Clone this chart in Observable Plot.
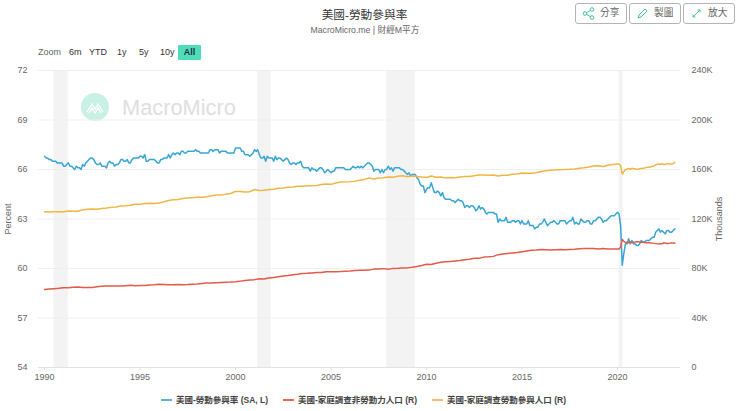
<!DOCTYPE html>
<html><head><meta charset="utf-8">
<script src="https://cdn.jsdelivr.net/npm/d3@7"></script>
<script src="https://cdn.jsdelivr.net/npm/@observablehq/plot@0.6"></script>
<style>
html,body{margin:0;padding:0;background:#fff;width:740px;height:411px;overflow:hidden;font-family:"Liberation Sans","Noto Sans CJK TC",sans-serif}
#page{position:relative;width:740px;height:411px}
.t{position:absolute;white-space:nowrap;line-height:1}
#chart{position:absolute;left:0;top:60px}
.btn{position:absolute;top:3px;width:50px;height:19px;border:1px solid #b4b4b4;border-radius:3px;font-size:9.7px;color:#666;background:#fff}
.btn span{position:absolute;left:24px;top:4px;line-height:1;white-space:nowrap}
.btn svg{position:absolute;left:6px;top:3px}
.sw{position:absolute;width:11px;height:2px;top:399px}
.lg{font-size:8.5px;font-weight:bold;color:#444;top:396px}
.z{font-size:9px;top:48px;color:#333}
</style></head><body>
<div id="page">
<svg style="position:absolute;left:81px;top:93px" width="28" height="28" viewBox="0 0 28 28"><circle cx="14" cy="14" r="14" fill="#c9f0e5"/><path d="M6 19 L11 11 L14 16 L17 11 L22 19 M8 20 L11 15 L14 20 L17 15 L20 20" fill="none" stroke="#fff" stroke-width="1.4"/></svg>
<div class="t" style="left:122px;top:97px;font-size:21.8px;color:#dedede">MacroMicro</div>
<div id="chart"></div>
<div class="t" style="left:0;width:729px;text-align:center;top:9px;font-size:11.7px;color:#333">美國-勞動參與率</div>
<div class="t" style="left:0;width:730px;text-align:center;top:26px;font-size:8.7px;color:#666">MacroMicro.me | 財經M平方</div>
<div class="btn" style="left:575px"><svg width="13" height="13" viewBox="0 0 13 13" fill="none" stroke="#45c29f"><circle cx="3" cy="6.5" r="1.8"/><circle cx="10" cy="2.5" r="1.8"/><circle cx="10" cy="10.5" r="1.8"/><path d="M4.6 5.6L8.4 3.4M4.6 7.4L8.4 9.6"/></svg><span>分享</span></div>
<div class="btn" style="left:629px"><svg width="13" height="13" viewBox="0 0 13 13" fill="none" stroke="#45c29f"><path d="M2 11L3 8L9 2L11 4L5 10Z"/></svg><span>製圖</span></div>
<div class="btn" style="left:683px"><svg width="13" height="13" viewBox="0 0 13 13" fill="none" stroke="#45c29f"><path d="M3 10L10 3M10 3L7.5 3M10 3L10 5.5M3 10L5.5 10M3 10L3 7.5"/></svg><span>放大</span></div>
<div class="t z" style="left:38px;color:#666">Zoom</div>
<div class="t z" style="left:69px">6m</div>
<div class="t z" style="left:89px">YTD</div>
<div class="t z" style="left:117px">1y</div>
<div class="t z" style="left:139px">5y</div>
<div class="t z" style="left:160px">10y</div>
<div style="position:absolute;left:178px;top:45px;width:23px;height:15px;background:#4fdcb8;border-radius:1px"></div>
<div class="t z" style="left:178px;width:23px;text-align:center;font-weight:bold;color:#234">All</div>
<div class="sw" style="left:161px;background:#5fb4cf"></div><div class="t lg" style="left:176px">美國-勞動參與率 (SA, L)</div>
<div class="sw" style="left:283px;background:#e26a58"></div><div class="t lg" style="left:298px">美國-家庭調查非勞動力人口 (R)</div>
<div class="sw" style="left:432px;background:#efc069"></div><div class="t lg" style="left:447px">美國-家庭調查勞動參與人口 (R)</div>
</div>
<script>
// 勞動參與率 monthly, 1990-01 … 2023-01
const participation = [
66.8,66.7,66.7,66.6,66.6,66.5,66.5,66.5,66.4,66.4,66.4,66.4,
66.2,66.2,66.3,66.4,66.2,66.2,66.1,66.0,66.2,66.1,66.1,66.0,
66.3,66.2,66.4,66.5,66.6,66.7,66.7,66.6,66.4,66.3,66.3,66.4,
66.2,66.2,66.2,66.1,66.4,66.5,66.4,66.4,66.2,66.3,66.3,66.4,
66.6,66.6,66.5,66.5,66.6,66.4,66.4,66.6,66.7,66.7,66.7,66.7,
66.8,66.8,66.7,66.9,66.5,66.5,66.6,66.6,66.6,66.6,66.5,66.4,
66.4,66.6,66.6,66.7,66.7,66.7,66.9,66.7,66.9,67.0,66.9,67.0,
67.0,66.9,67.1,67.1,67.0,67.0,67.1,67.1,67.1,67.1,67.1,67.2,
67.1,67.1,67.0,67.0,67.0,67.0,67.0,67.0,67.2,67.2,67.1,67.2,
67.2,67.2,67.0,67.1,67.1,67.1,67.1,67.0,67.0,67.0,67.0,67.0,
67.3,67.3,67.3,67.3,67.1,67.1,66.9,66.9,66.9,66.8,66.9,67.0,
67.2,67.1,67.2,66.9,66.7,66.7,66.8,66.5,66.8,66.7,66.7,66.7,
66.5,66.8,66.6,66.7,66.7,66.6,66.5,66.6,66.7,66.6,66.4,66.3,
66.4,66.4,66.3,66.4,66.4,66.5,66.2,66.1,66.1,66.1,66.1,65.9,
66.1,66.0,66.0,65.9,66.0,66.1,66.1,66.0,65.8,65.9,66.0,65.9,
65.8,65.9,65.9,66.1,66.1,66.1,66.1,66.1,66.1,66.0,66.0,66.0,
66.0,66.1,66.2,66.1,66.1,66.2,66.1,66.2,66.1,66.2,66.3,66.4,
66.4,66.3,66.2,65.9,66.0,66.0,66.0,65.8,66.0,65.8,66.0,66.0,
66.2,66.0,66.1,65.9,66.1,66.1,66.1,66.1,66.0,66.0,65.9,65.8,
65.7,65.8,65.6,65.7,65.7,65.7,65.5,65.4,65.1,65.0,65.0,64.6,
64.8,64.9,64.9,65.2,64.9,64.6,64.6,64.7,64.6,64.4,64.6,64.3,
64.2,64.2,64.2,64.2,64.1,64.1,64.0,64.1,64.2,64.1,64.1,64.0,
63.7,63.8,63.8,63.7,63.8,63.8,63.7,63.5,63.6,63.8,63.6,63.7,
63.6,63.4,63.3,63.4,63.4,63.4,63.4,63.3,63.3,62.8,63.0,62.9,
62.9,62.9,63.1,62.8,62.8,62.8,62.9,62.9,62.8,62.9,62.9,62.7,
62.9,62.7,62.7,62.7,62.9,62.6,62.6,62.6,62.4,62.5,62.5,62.7,
62.7,62.8,63.0,62.8,62.6,62.7,62.8,62.8,62.9,62.8,62.7,62.7,
62.9,62.9,62.9,62.9,62.7,62.8,62.9,62.9,63.1,62.7,62.8,62.7,
62.7,63.0,62.9,62.8,62.8,62.9,62.9,62.7,62.7,62.9,62.9,63.0,
63.1,63.1,63.0,62.8,62.9,62.9,63.0,63.1,63.2,63.2,63.2,63.3,
63.4,63.3,62.6,60.2,60.9,61.5,61.5,61.8,61.5,61.7,61.5,61.5,
61.4,61.4,61.5,61.7,61.6,61.6,61.7,61.7,61.7,61.8,61.9,61.9,
62.2,62.3,62.4,62.2,62.3,62.2,62.1,62.3,62.3,62.2,62.2,62.3,
62.4];
// 非勞動力人口 (K): quarterly 1990–2019, then monthly 2020-01 … 2023-01
const notInLaborQuarterly = [
63.0,63.4,63.7,64.0, 64.5,64.4,64.8,65.0, 64.6,64.6,64.6,65.2, 65.6,65.8,65.8,65.8,
65.8,66.1,66.4,66.1, 66.3,66.2,66.6,66.9, 67.3,67.1,66.9,66.9, 67.0,66.8,67.0,67.3,
67.5,67.9,68.2,68.2, 68.4,68.6,68.8,69.0, 69.3,69.8,70.3,70.7, 71.0,71.7,71.5,72.3,
72.7,73.3,73.9,74.4, 75.0,75.3,75.9,76.1, 76.4,76.7,76.7,77.3, 77.4,77.4,77.5,77.8,
78.0,78.4,78.6,78.6, 78.7,79.5,79.5,79.9, 79.4,80.1,80.2,80.4, 80.5,81.0,81.6,82.5,
83.5,83.3,84.3,85.0, 85.4,85.7,86.1,86.4, 87.0,87.5,88.2,88.2, 89.2,89.4,89.8,91.2,
91.8,92.2,92.6,93.0, 93.6,94.2,94.8,95.0, 95.3,95.2,95.0,95.2, 95.3,95.2,95.4,95.6,
95.9,96.1,96.2,96.1, 95.8,96.2,95.8,95.7];
const notInLaborMonthly = [
95.7,95.8,97.5,103.5,102.0,101.0,101.2,100.8,101.4,100.9,101.3,101.4,
101.6,101.6,101.4,101.2,101.2,101.1,100.9,100.9,100.8,100.7,100.5,100.3,
100.1,99.9,99.8,100.0,100.0,100.6,100.6,100.2,100.3,100.5,100.7,100.6,
100.5];
// 勞動參與人口 (K): quarterly 1990–2019, then monthly 2020-01 … 2023-01
const laborForceQuarterly = [
125.8,125.7,125.9,125.9, 125.9,126.4,126.3,126.3, 127.4,127.9,128.1,127.9, 128.4,128.8,129.4,129.7,
130.6,130.7,131.1,132.0, 132.0,132.6,132.7,132.6, 133.0,133.9,134.9,135.6, 135.8,136.6,136.9,137.2,
137.5,137.5,137.9,138.8, 139.3,139.3,140.0,140.6, 142.3,142.3,141.8,142.1, 143.8,143.0,143.2,143.8,
144.0,144.9,145.0,145.6, 145.9,146.5,146.4,146.8, 146.8,147.1,147.8,148.3, 148.0,149.1,149.9,150.0,
150.2,150.6,151.3,152.0, 153.1,152.4,153.1,153.3, 153.9,153.8,154.5,154.9, 154.2,154.7,154.4,153.9,
153.5,154.7,153.7,153.9, 153.2,153.5,153.3,154.0, 154.4,154.4,154.9,155.6, 155.6,155.4,155.5,154.8,
155.3,155.3,156.1,156.4, 157.1,156.9,157.0,157.4, 158.4,158.9,159.3,159.7, 159.7,160.1,160.2,160.4,
161.1,161.5,162.1,162.8, 163.1,162.5,163.5,164.0];
const laborForceMonthly = [
164.5,164.5,162.9,156.4,158.2,159.9,160.2,160.9,160.2,161.0,160.6,160.6,
160.2,160.3,160.6,160.9,160.9,161.2,161.6,161.8,161.9,162.2,162.6,162.9,
163.7,164.2,164.5,164.3,164.6,164.1,164.0,164.7,164.7,164.5,164.4,164.6,
165.8];
const recessionStart = ["1990-07-01","2001-03-01","2007-12-01","2020-02-01"];
const recessionEnd   = ["1991-04-01","2001-11-15","2009-06-01","2020-04-15"];
const leftTicks = [54,57,60,63,66,69,72];
const rightLabels = ["0","40K","80K","120K","160K","200K","240K"];
const yearTicks = [1990,1995,2000,2005,2010,2015,2020];

const ym = (y,m) => new Date(Date.UTC(y,m,1));
const monthly = (arr,y0) => arr.map((v,i)=>({date:ym(y0,i),v}));
const quarterly = (arr,y0) => arr.map((v,i)=>({date:ym(y0,i*3),v}));
const toLeft = k => 54 + k/240*18;      // right-axis thousands onto the shared y scale
const blue = monthly(participation,1990);
const red = [...quarterly(notInLaborQuarterly,1990),...monthly(notInLaborMonthly,2020)].map(d=>({date:d.date,v:toLeft(d.v)}));
const yellow = [...quarterly(laborForceQuarterly,1990),...monthly(laborForceMonthly,2020)].map(d=>({date:d.date,v:toLeft(d.v)}));
const bands = recessionStart.map((s,i)=>({a:new Date(s),b:new Date(recessionEnd[i])}));

const chart = Plot.plot({
  width:740, height:325, marginTop:10, marginBottom:18, marginLeft:38, marginRight:60,
  style:{background:"transparent",fontFamily:'"Liberation Sans","Noto Sans CJK TC",sans-serif',fontSize:"9px",color:"#666"},
  x:{type:"utc",domain:[new Date("1989-09-08"),new Date("2023-04-20")]},
  y:{domain:[54,72]},
  marks:[
    Plot.rectX(bands,{x1:"a",x2:"b",y1:54,y2:72,fill:"#f3f3f3"}),
    Plot.ruleY(leftTicks.slice(1),{stroke:"#efefef",strokeWidth:1}),
    Plot.ruleY([54],{stroke:"#e2e2e2",strokeWidth:1}),
    Plot.axisX({ticks:yearTicks.map(y=>ym(y,0)),tickFormat:d=>String(d.getUTCFullYear()),tickSize:3,tickPadding:3,stroke:"#ddd",fill:"#666",label:null}),
    Plot.axisY({anchor:"left",ticks:leftTicks,tickSize:0,tickPadding:11,fill:"#666",label:"Percent",labelAnchor:"center",labelArrow:"none",labelOffset:34}),
    Plot.axisY({anchor:"right",ticks:leftTicks,tickSize:0,tickPadding:11,fill:"#666",tickFormat:(d,i)=>rightLabels[i],label:"Thousands",labelAnchor:"center",labelArrow:"none",labelOffset:41}),
    Plot.line(blue,{x:"date",y:"v",stroke:"#38a5d5",strokeWidth:1.5}),
    Plot.line(red,{x:"date",y:"v",stroke:"#e35a48",strokeWidth:1.5}),
    Plot.line(yellow,{x:"date",y:"v",stroke:"#f1b542",strokeWidth:1.5})
  ]
});
document.getElementById("chart").appendChild(chart);
</script>
</body></html>
